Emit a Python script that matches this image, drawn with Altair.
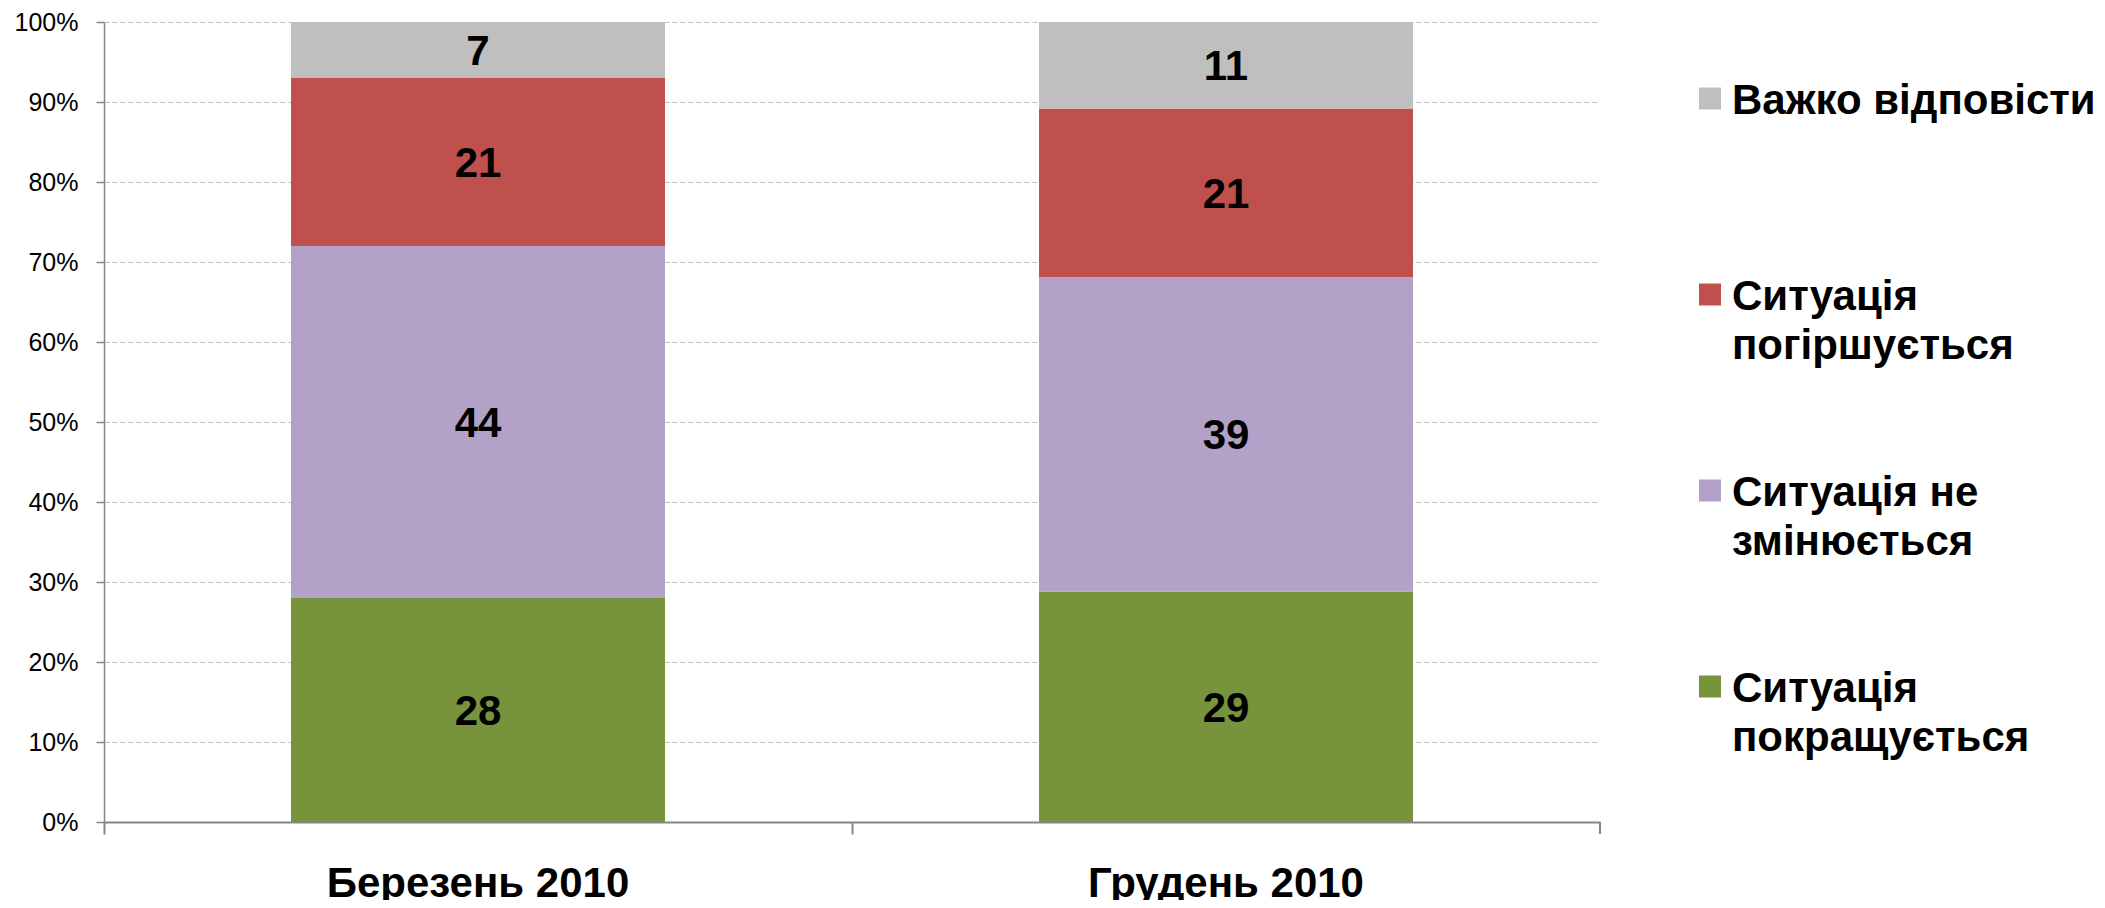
import altair as alt
import pandas as pd

periods = ["Березень 2010", "Грудень 2010"]
categories = ["Ситуація покращується", "Ситуація не змінюється", "Ситуація погіршується", "Важко відповісти"]
legend_labels = ["Ситуація\nпокращується", "Ситуація не\nзмінюється", "Ситуація\nпогіршується", "Важко відповісти"]
colors = ["#77933C", "#B3A2C7", "#C0504D", "#BFBFBF"]
march = [28, 44, 21, 7]
december = [28.8, 39.3, 21.1, 10.8]
y_ticks = [0, 10, 20, 30, 40, 50, 60, 70, 80, 90, 100]

rows = []
for p, vals in zip(periods, [march, december]):
    for i, (c, v) in enumerate(zip(categories, vals)):
        rows.append({"period": p, "category": c, "value": v, "order": i})
df = pd.DataFrame(rows)

legend_df = pd.DataFrame({"category": categories, "label": legend_labels})

FONT = "Liberation Sans"

color_scale = alt.Scale(domain=categories, range=colors)

x_enc = alt.X(
    "period:N",
    sort=periods,
    scale=alt.Scale(paddingInner=0.5, paddingOuter=0.25),
    axis=alt.Axis(
        title=None, labelAngle=0, labelFont=FONT, labelFontSize=42, labelFontWeight="bold",
        labelColor="#000000", labelPadding=29, labelLimit=800, tickSize=12,
        tickColor="#868686", tickWidth=2, domainColor="#868686", domainWidth=2,
        bandPosition=-0.5, grid=False,
    ),
)

bars = alt.Chart(df).mark_bar().encode(
    x=x_enc,
    y=alt.Y(
        "value:Q",
        stack="zero",
        scale=alt.Scale(domain=[0, 100], nice=False),
        axis=alt.Axis(
            title=None, values=y_ticks, labelExpr="datum.value + '%'", labelFont=FONT,
            labelFontSize=25, labelColor="#000000", labelPadding=18, tickSize=8,
            tickColor="#868686", tickWidth=1.5, domainColor="#868686", domainWidth=1.5,
            grid=True, gridColor="#BFBFBF", gridDash=[5, 3], gridWidth=1,
        ),
    ),
    color=alt.Color("category:N", scale=color_scale, legend=None),
    order=alt.Order("order:Q", sort="ascending"),
)

texts = alt.Chart(df).transform_stack(
    stack="value", groupby=["period"], as_=["v0", "v1"],
    sort=[alt.SortField("order", order="ascending")],
).transform_calculate(
    mid="(datum.v0 + datum.v1) / 2"
).mark_text(
    font=FONT, fontSize=42, fontWeight="bold", color="#000000", baseline="alphabetic", dy=15
).encode(
    x=alt.X("period:N", sort=periods),
    y=alt.Y("mid:Q", scale=alt.Scale(domain=[0, 100], nice=False)),
    text=alt.Text("value:Q", format=".0f"),
)

end_tick = alt.Chart(df).mark_rule(color="#868686", strokeWidth=2).encode(
    x=alt.value(1496), y=alt.value(800), y2=alt.value(812)
)

main = alt.layer(bars, texts, end_tick)

leg_y = alt.Y(
    "category:N",
    scale=alt.Scale(type="point", domain=categories[::-1], range=[76.5, 664.5], padding=0),
    axis=None,
)

leg_sq = alt.Chart(legend_df).mark_square(size=484, opacity=1, strokeWidth=0).encode(
    x=alt.value(1606),
    y=leg_y,
    color=alt.Color("category:N", scale=color_scale, legend=None),
)

leg_txt = alt.Chart(legend_df).mark_text(
    font=FONT, fontSize=42, fontWeight="bold", color="#000000", align="left",
    baseline="alphabetic", dy=15, lineBreak="\n", lineHeight=49,
).encode(
    x=alt.value(1628),
    y=leg_y,
    text="label:N",
)

legend = alt.layer(leg_sq, leg_txt)

chart = alt.layer(main, legend).resolve_scale(y="independent").properties(
    width=1496,
    height=800,
    padding={"left": 96, "top": 14, "right": 497, "bottom": 78},
    autosize="none",
).configure_view(stroke=None)

chart.save("out.html", embed_options={"renderer": "svg", "actions": False})
